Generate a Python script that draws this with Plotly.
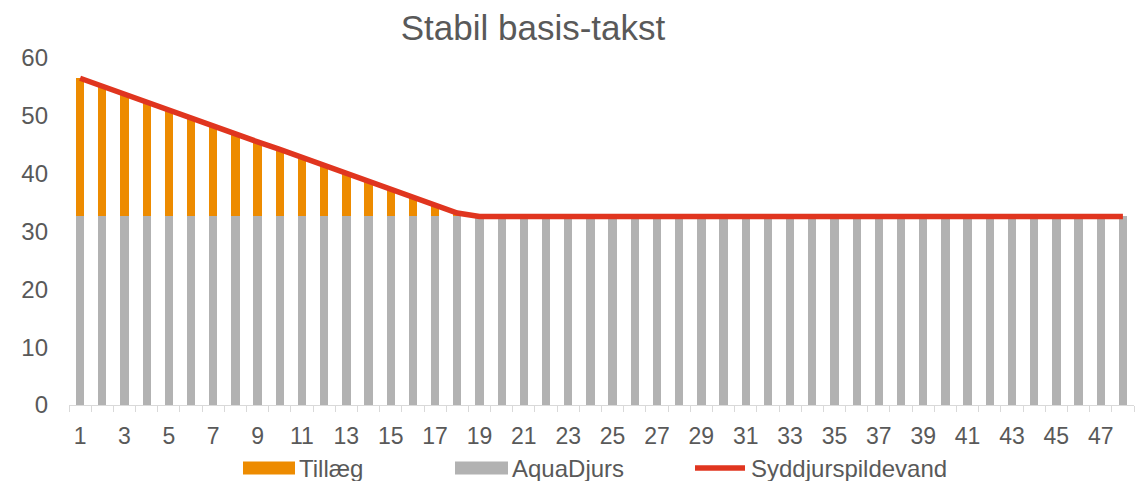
import plotly.graph_objects as go

# ---- data ----
periods = list(range(1, 49))
aquadjurs = [32.6] * 48
tillaeg = [23.9, 22.5, 21.2, 19.8, 18.4, 17.1, 15.7, 14.3, 12.9, 11.6, 10.2, 8.8,
           7.5, 6.1, 4.7, 3.3, 2.0, 0.6] + [0.0] * 30
syddjurs = [56.5, 55.1, 53.8, 52.4, 51.0, 49.7, 48.3, 46.9, 45.5, 44.2, 42.8, 41.4,
            40.1, 38.7, 37.3, 35.9, 34.6, 33.2] + [32.6] * 30
tick_labels = [str(v) for v in range(1, 48, 2)]

series_names = ["Tillæg", "AquaDjurs", "Syddjurspildevand"]
c_orange = "#ED8B00"
c_gray = "#B2B2B2"
c_red = "#E0351F"
txt = "#595959"
font_family = "Liberation Sans, Arial, sans-serif"

# page is 1147x481; the html body has an 8px margin, so the figure is 8px smaller
OFF = 8
W, H = 1147 - OFF, 481 - OFF
# plot area in page pixels: x 69..1134, y 58..405
L, R, T, B = 69 - OFF, (1147 - 1134), 58 - OFF, 481 - 405
pw, ph = W - L - R, H - T - B

fig = go.Figure()
fig.add_bar(x=periods, y=aquadjurs, name=series_names[1], marker_color=c_gray,
            marker_line_width=0, showlegend=False)
fig.add_bar(x=periods, y=tillaeg, name=series_names[0], marker_color=c_orange,
            marker_line_width=0, showlegend=False)
fig.add_scatter(x=periods, y=syddjurs, name=series_names[2], mode="lines",
                line=dict(color=c_red, width=5.5), showlegend=False)

def px2x(p):  # page pixel -> paper x
    return (p - OFF - L) / pw

def py2y(p):  # page pixel -> paper y
    return (H - B - (p - OFF)) / ph

shapes = []
annotations = []
legend_items = [
    (243, 295, "bar", c_orange, series_names[0]),
    (455, 508, "bar", c_gray, series_names[1]),
    (693, 747, "line", c_red, series_names[2]),
]
ly = 468
for x0, x1, kind, col, name in legend_items:
    if kind == "bar":
        shapes.append(dict(type="rect", xref="paper", yref="paper",
                           x0=px2x(x0), x1=px2x(x1), y0=py2y(ly + 6.5), y1=py2y(ly - 6.5),
                           fillcolor=col, line_width=0))
    else:
        shapes.append(dict(type="line", xref="paper", yref="paper",
                           x0=px2x(x0 + 2), x1=px2x(x1 - 2), y0=py2y(ly), y1=py2y(ly),
                           line=dict(color=col, width=5.5)))
    annotations.append(dict(xref="paper", yref="paper", x=px2x(x1 + 2), y=py2y(ly),
                            text=name, showarrow=False, xanchor="left", yanchor="middle",
                            font=dict(size=24, color=txt, family=font_family)))

fig.update_layout(
    width=W, height=H,
    margin=dict(l=L, r=R, t=T, b=B, autoexpand=False),
    barmode="stack", bargap=0.625,
    plot_bgcolor="white", paper_bgcolor="white",
    font=dict(family=font_family, color=txt, size=24),
    title=dict(text="Stabil basis-takst", x=(533 - OFF) / W, xanchor="center",
               y=1 - (28 - OFF) / H, yanchor="middle", xref="container", yref="container",
               font=dict(size=35, color=txt, family=font_family)),
    shapes=shapes, annotations=annotations,
    showlegend=False,
)
fig.update_xaxes(
    type="linear", range=[0.5, 48.5],
    tickmode="array", tickvals=list(range(1, 48, 2)), ticktext=tick_labels,
    ticks="", showgrid=False, zeroline=False,
    showline=True, linecolor="#D9D9D9", linewidth=1,
    ticklabelstandoff=10,
    tickfont=dict(size=23, color=txt),
    minor=dict(tick0=0.5, dtick=1, ticks="outside", ticklen=6,
               tickcolor="#D9D9D9", tickwidth=1, showgrid=False),
)
fig.update_yaxes(
    range=[0, 60], tickvals=[0, 10, 20, 30, 40, 50, 60],
    showgrid=False, zeroline=False, showline=False, ticks="",
    ticklabelstandoff=20,
    tickfont=dict(size=24, color=txt),
)

fig.write_html("out.html")
